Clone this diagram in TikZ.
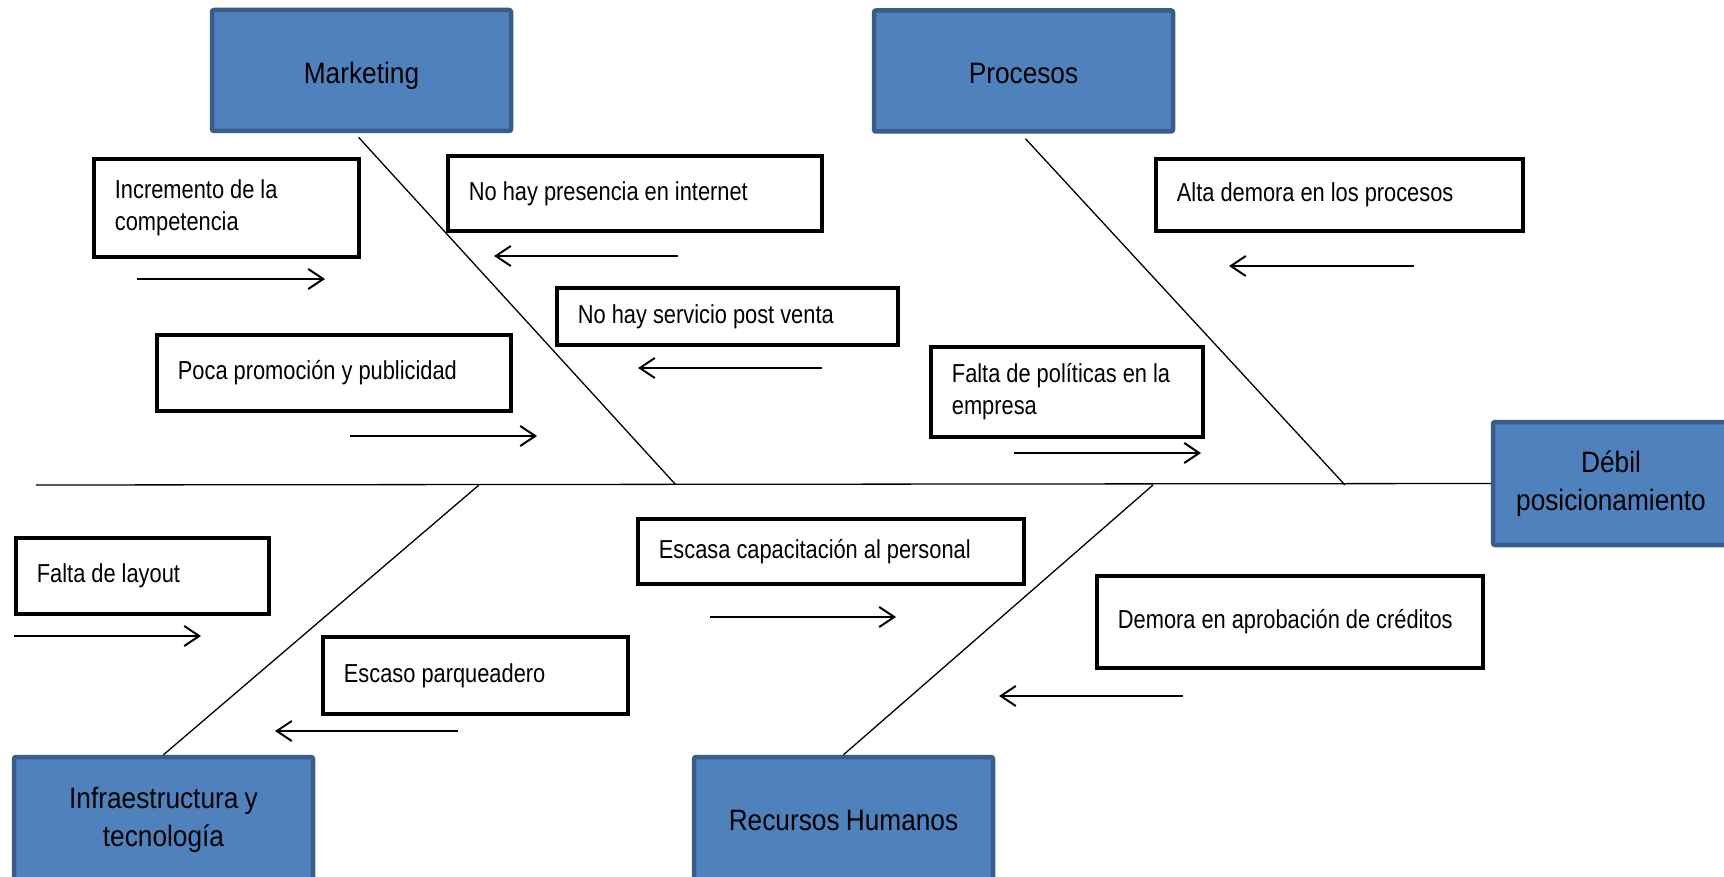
\documentclass[tikz,border=0pt]{standalone}
\usepackage{fontspec}
\setmainfont{Liberation Sans}
\newfontfamily\catfont[FakeStretch=0.89, WordSpace=0.85]{Liberation Sans}
\newfontfamily\causefont[FakeStretch=0.84]{Liberation Sans}
\usetikzlibrary{arrows.meta}
\definecolor{catfill}{HTML}{4F81BD}
\definecolor{catedge}{HTML}{385D8A}
\tikzset{
  category/.style={draw=catedge, fill=catfill, line width=4.5pt, rounded corners=2pt,
    align=center, inner sep=0pt, font=\catfont\fontsize{29.5}{38}\selectfont},
  cause/.style={draw=black, line width=3.8pt, anchor=north west, align=left,
    inner xsep=21pt, inner ysep=0pt, font=\causefont\fontsize{26}{32}\selectfont,
    execute at begin node={\spaceskip=6pt plus 1pt minus 1pt\relax}},
  bone/.style={line width=1.3pt},
  hint/.style={line width=2pt, -{Straight Barb[length=15pt,width=20pt]}},
}
\begin{document}
\begin{tikzpicture}[x=1pt,y=-1pt]
\useasboundingbox (0,0) rectangle (1724,877);
\clip (0,0) rectangle (1724,877);

% category boxes
\node[category, minimum width=299pt, minimum height=121pt, text height=21pt, text depth=0pt] (mkt) at (361.5,70.5) {\raisebox{-2.5pt}{Marketing}};
\node[category, minimum width=299pt, minimum height=121pt, text height=21pt, text depth=0pt] (proc) at (1023.5,71) {\raisebox{-2.5pt}{Procesos}};
\node[category, minimum width=236pt, minimum height=123pt] (effect) at (1611,483.5) {\raisebox{-4pt}{Débil}\\\raisebox{-4pt}{posicionamiento}};
\node[category, minimum width=299pt, minimum height=125pt] (infra) at (163.5,819.5) {Infraestructura y\\tecnología};
\node[category, minimum width=299pt, minimum height=125pt, text height=21pt, text depth=0pt] (rrhh) at (843.5,819.5) {Recursos Humanos};

% spine and bones
\coordinate (tail) at (36,485);
\coordinate (jm) at (676,485);
\coordinate (jp) at (1345,485);
\coordinate (ji) at (479,485);
\coordinate (jr) at (1153,485);
\draw[bone] (tail) -- (effect.west);
\draw[bone] (mkt.south) ++(-3,4) coordinate (sm) (sm) -- (jm);
\draw[bone] (proc.south) ++(2,5) coordinate (sp) (sp) -- (jp);
\draw[bone] (ji) -- (infra.north) ++(2.5,-5) coordinate (si);
\draw[bone] (jr) -- (rrhh.north) ++(-3.5,-5) coordinate (sr);

% causes
\node[cause, text width=223pt, minimum height=98pt] (c1) at (92,157) {Incremento de la\\competencia};
\node[cause, text width=332pt, minimum height=75pt] (c2) at (446,154) {No hay presencia en internet};
\node[cause, text width=299pt, minimum height=57pt] (c3) at (555,286) {No hay servicio post venta};
\node[cause, text width=312pt, minimum height=76pt] (c4) at (155,333) {Poca promoción y publicidad};
\node[cause, text width=325pt, minimum height=72pt] (c5) at (1154,157) {Alta demora en los procesos};
\node[cause, text width=230pt, minimum height=90pt] (c6) at (929,345) {Falta de políticas en la\\empresa};
\node[cause, text width=211pt, minimum height=76pt] (c7) at (14,536) {Falta de layout};
\node[cause, text width=344pt, minimum height=65pt] (c8) at (636,517) {Escasa capacitación al personal};
\node[cause, text width=263pt, minimum height=77pt] (c9) at (321,635) {Escaso parqueadero};
\node[cause, text width=344pt, minimum height=92pt] (c10) at (1095,574) {Demora en aprobación de créditos};

% direction hints
\coordinate (a1s) at (137,279);  \coordinate (a1e) at (325,279);
\coordinate (a2s) at (678,256);  \coordinate (a2e) at (494,256);
\coordinate (a3s) at (822,368);  \coordinate (a3e) at (638,368);
\coordinate (a4s) at (350,436);  \coordinate (a4e) at (537,436);
\coordinate (a5s) at (1414,266); \coordinate (a5e) at (1229,266);
\coordinate (a6s) at (1014,453); \coordinate (a6e) at (1201,453);
\coordinate (a7s) at (14,636);   \coordinate (a7e) at (201,636);
\coordinate (a8s) at (710,617);  \coordinate (a8e) at (896,617);
\coordinate (a9s) at (458,731);  \coordinate (a9e) at (275,731);
\coordinate (a10s) at (1183,696); \coordinate (a10e) at (999,696);
\foreach \i in {1,...,10} \draw[hint] (a\i s) -- (a\i e);
\end{tikzpicture}
\end{document}
